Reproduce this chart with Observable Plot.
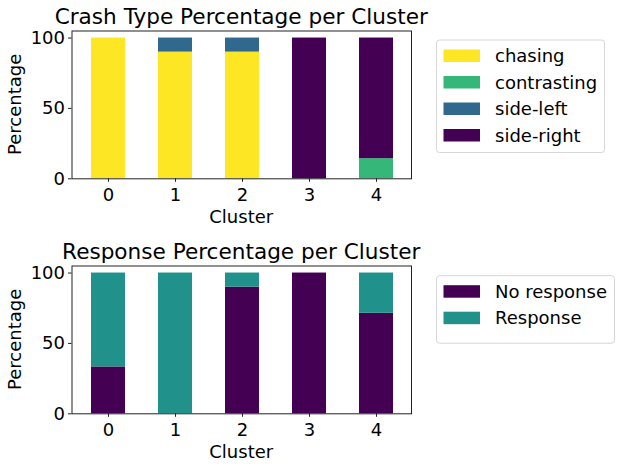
<!DOCTYPE html>
<html>
<head>
<meta charset="utf-8">
<script src="https://cdn.jsdelivr.net/npm/d3@7"></script>
<script src="https://cdn.jsdelivr.net/npm/@observablehq/plot@0.6"></script>
<style>
  html, body { margin: 0; padding: 0; background: #fff; }
  #wrap { position: relative; width: 623px; height: 470px; overflow: hidden; }
  #wrap svg { position: absolute; left: 0; }
</style>
</head>
<body>
<div id="wrap"></div>
<script>
// ---- Data ----
const clusters = [0, 1, 2, 3, 4];

const crashTypes = ["chasing", "contrasting", "side-left", "side-right"];
const crashColors = ["#fde725", "#35b779", "#31688e", "#440154"];
const chasing     = [100, 90, 90, 0, 0];
const contrasting = [0, 0, 0, 0, 14.3];
const sideLeft    = [0, 10, 10, 0, 0];
const sideRight   = [0, 0, 0, 100, 85.7];

const responseTypes = ["No response", "Response"];
const responseColors = ["#440154", "#21918c"];
const noResponse = [33.3, 0, 90, 100, 71.4];
const response   = [66.7, 100, 10, 0, 28.6];

const yTicks = [0, 50, 100];

const crashSeries = [chasing, contrasting, sideLeft, sideRight];
const crashData = [];
clusters.forEach((c, i) => crashTypes.forEach((t, k) => crashData.push({cluster: c, type: t, value: crashSeries[k][i]})));

const respSeries = [noResponse, response];
const respData = [];
clusters.forEach((c, i) => responseTypes.forEach((t, k) => respData.push({cluster: c, type: t, value: respSeries[k][i]})));

const FONT = "DejaVu Sans";
const W = 623, H = 235;
const mL = 71.5, mR = 212, mT = 30.5, mB = H - 178.3;

function makeChart(data, types, colors, title, top, legend) {
  const chart = Plot.plot({
    width: W, height: H,
    marginLeft: mL, marginRight: mR, marginTop: mT, marginBottom: mB,
    style: {fontFamily: FONT, fontSize: "18px", color: "#000", background: "#fff", overflow: "visible"},
    x: {type: "band", domain: clusters, paddingInner: 0.5, paddingOuter: 0.25, label: null},
    y: {domain: [0, 105], label: null},
    color: {domain: types, range: colors},
    marks: [
      Plot.barY(data, {x: "cluster", y: "value", fill: "type", order: types}),
      Plot.frame({stroke: "#222", strokeWidth: 1}),
      Plot.axisY({ticks: yTicks, tickSize: 3.5, tickPadding: 3.5, label: null, stroke: "#222", fontSize: 18}),
      Plot.axisX({tickSize: 3.5, tickPadding: 6, label: null, stroke: "#222", fontSize: 18})
    ]
  });
  chart.style.top = top + "px";
  const svg = d3.select(chart);
  const cx = (mL + (W - mR)) / 2;
  svg.append("text").attr("x", cx).attr("y", 24).attr("text-anchor", "middle")
    .attr("font-size", 21.6).attr("font-family", FONT).attr("fill", "#000").text(title);
  svg.append("text").attr("x", cx).attr("y", 223.3).attr("text-anchor", "middle")
    .attr("font-size", 18).attr("font-family", FONT).attr("fill", "#000").text("Cluster");
  svg.append("text").attr("transform", `translate(21,${(mT + 178.3) / 2}) rotate(-90)`)
    .attr("text-anchor", "middle").attr("font-size", 18).attr("font-family", FONT)
    .attr("fill", "#000").text("Percentage");
  // legend
  const g = svg.append("g");
  g.append("rect").attr("x", legend.x).attr("y", legend.y).attr("width", legend.w).attr("height", legend.h)
    .attr("rx", 3).attr("fill", "#fff").attr("stroke", "#d6d6d6").attr("stroke-width", 1);
  const colorScale = chart.scale("color");
  types.forEach((t, i) => {
    const yy = legend.y + 9.5 + i * 26.5;
    g.append("rect").attr("x", legend.x + 7).attr("y", yy).attr("width", 36.5).attr("height", 12.5)
      .attr("fill", colorScale.apply(t));
    g.append("text").attr("x", legend.x + 58.5).attr("y", yy + 12.5).attr("font-size", 18)
      .attr("text-anchor", "start")
      .attr("font-family", FONT).attr("fill", "#000").text(t);
  });
  document.getElementById("wrap").appendChild(chart);
}

makeChart(crashData, crashTypes, crashColors, "Crash Type Percentage per Cluster", 0,
  {x: 436.5, y: 40, w: 168, h: 112.5});
makeChart(respData, responseTypes, responseColors, "Response Percentage per Cluster", 235,
  {x: 436.5, y: 275.7 - 235, w: 178, h: 67.5});
</script>
</body>
</html>
